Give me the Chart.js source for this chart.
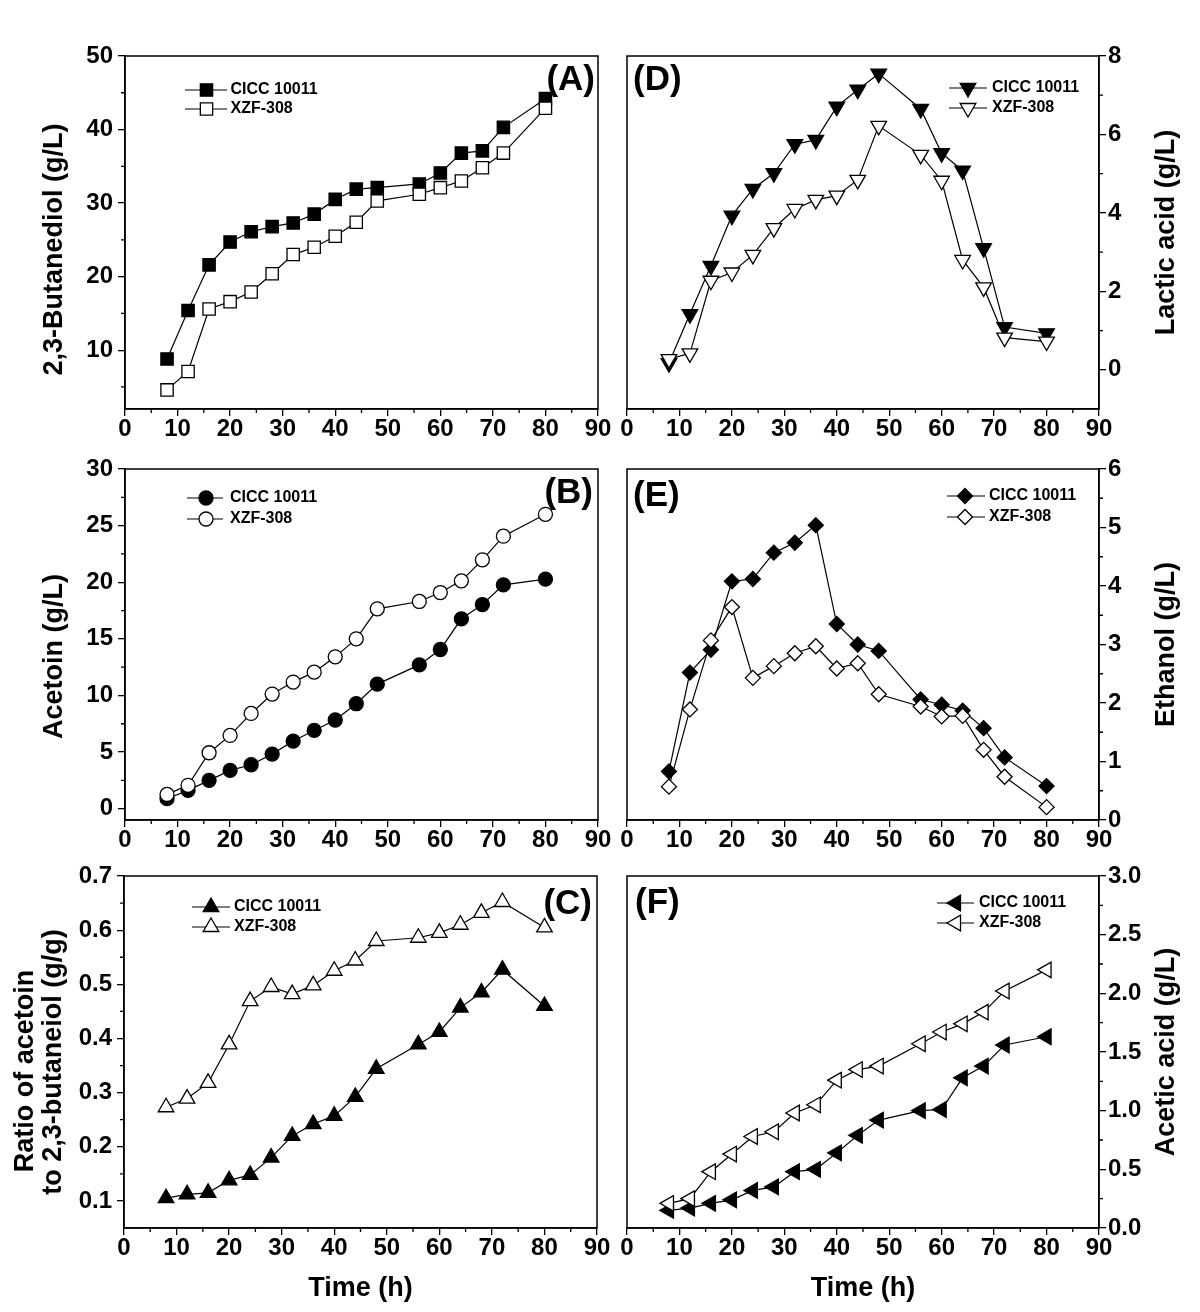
<!DOCTYPE html>
<html><head><meta charset="utf-8">
<script src="https://cdn.jsdelivr.net/npm/chart.js@4/dist/chart.umd.min.js"></script>
<style>
html,body{margin:0;padding:0;background:#fff;}
#wrap{position:relative;width:1200px;height:1312px;overflow:hidden;background:#fff;}
canvas{position:absolute;}
</style></head><body><div id="wrap"></div>
<script>
// ---------- data ----------
const timeH = [8, 12, 16, 20, 24, 28, 32, 36, 40, 44, 48, 56, 60, 64, 68, 72, 80];
const seriesNames = ['CICC 10011', 'XZF-308'];
const panelLabels = ['(A)', '(B)', '(C)', '(D)', '(E)', '(F)'];

const bdoCICC = [8.8, 15.4, 21.6, 24.7, 26.1, 26.8, 27.3, 28.5, 30.5, 31.9, 32.1, 32.6, 34.1, 36.8, 37.1, 40.3, 44.2];
const bdoXZF  = [4.6, 7.1, 15.6, 16.6, 17.9, 20.4, 23.0, 24.0, 25.5, 27.4, 30.3, 31.2, 32.1, 33.0, 34.8, 36.8, 42.9];
const acetoinCICC = [0.88, 1.62, 2.50, 3.38, 3.88, 4.82, 5.97, 6.91, 7.83, 9.27, 11.0, 12.7, 14.06, 16.77, 18.03, 19.77, 20.27];
const acetoinXZF  = [1.26, 2.06, 4.94, 6.47, 8.41, 10.12, 11.18, 12.06, 13.41, 15.0, 17.65, 18.3, 19.09, 20.12, 21.98, 24.07, 26.0];
const ratioCICC = [0.105, 0.112, 0.115, 0.138, 0.148, 0.180, 0.220, 0.242, 0.257, 0.292, 0.344, 0.389, 0.412, 0.457, 0.485, 0.527, 0.460];
const ratioXZF  = [0.273, 0.289, 0.318, 0.389, 0.469, 0.495, 0.482, 0.498, 0.525, 0.544, 0.580, 0.586, 0.595, 0.610, 0.632, 0.652, 0.605];
const lacticCICC = [0.17, 1.42, 2.65, 3.93, 4.61, 5.01, 5.75, 5.86, 6.71, 7.14, 7.55, 6.65, 5.52, 5.08, 3.10, 1.09, 0.93];
const lacticXZF  = [0.27, 0.42, 2.27, 2.48, 2.93, 3.61, 4.10, 4.33, 4.44, 4.84, 6.22, 5.48, 4.82, 2.80, 2.10, 0.82, 0.72];
const ethanolCICC = [0.83, 2.52, 2.91, 4.08, 4.12, 4.57, 4.74, 5.04, 3.35, 3.0, 2.89, 2.06, 1.97, 1.87, 1.57, 1.07, 0.58];
const ethanolXZF  = [0.57, 1.89, 3.07, 3.64, 2.43, 2.63, 2.85, 2.97, 2.59, 2.68, 2.15, 1.94, 1.77, 1.78, 1.20, 0.74, 0.22];
const aceticCICC = [0.15, 0.17, 0.21, 0.24, 0.32, 0.35, 0.48, 0.50, 0.64, 0.79, 0.92, 1.00, 1.01, 1.28, 1.38, 1.56, 1.63];
const aceticXZF  = [0.21, 0.25, 0.48, 0.63, 0.78, 0.82, 0.98, 1.05, 1.26, 1.35, 1.38, 1.57, 1.67, 1.74, 1.84, 2.02, 2.20];

// ---------- tick labels ----------
const timeTicks = [0, 10, 20, 30, 40, 50, 60, 70, 80, 90];
const timeMinorTicks = [5, 15, 25, 35, 45, 55, 65, 75, 85];
const bdoTicks = [10, 20, 30, 40, 50];
const bdoMinorTicks = [5, 15, 25, 35, 45];
const acetoinTicks = [0, 5, 10, 15, 20, 25, 30];
const acetoinMinorTicks = [2.5, 7.5, 12.5, 17.5, 22.5, 27.5];
const ratioTicks = [0.1, 0.2, 0.3, 0.4, 0.5, 0.6, 0.7];
const ratioMinorTicks = [0.15, 0.25, 0.35, 0.45, 0.55, 0.65];
const lacticTicks = [0, 2, 4, 6, 8];
const lacticMinorTicks = [1, 3, 5, 7];
const ethanolTicks = [0, 1, 2, 3, 4, 5, 6];
const ethanolMinorTicks = [0.5, 1.5, 2.5, 3.5, 4.5, 5.5];
const aceticTicks = [0, 0.5, 1, 1.5, 2, 2.5, 3];
const aceticMinorTicks = [0.25, 0.75, 1.25, 1.75, 2.25, 2.75];

const timeTitle = 'Time (h)';

// ---------- rendering ----------
const FAM = "'Liberation Sans', Arial, Helvetica, sans-serif";
const wrap = document.getElementById('wrap');

function drawMarker(ctx, style, rot, r, x, y) {
  if (Chart.helpers && Chart.helpers.drawPoint) {
    Chart.helpers.drawPoint(ctx, {pointStyle: style, rotation: rot, radius: r, borderWidth: ctx.lineWidth}, x, y);
  }
}

const deco = {
  id: 'deco',
  afterDraw(chart, args, o) {
    const ctx = chart.ctx, a = chart.chartArea, xs = chart.scales.x, ys = chart.scales.y;
    ctx.save();
    ctx.strokeStyle = '#000';
    ctx.lineWidth = 1.5;
    ctx.strokeRect(a.left, a.top, a.right - a.left, a.bottom - a.top);
    ctx.lineWidth = 1.3;
    ctx.beginPath();
    o.minorX.forEach(v => { const px = xs.getPixelForValue(v); ctx.moveTo(px, a.bottom); ctx.lineTo(px, a.bottom + 4); });
    o.minorY.forEach(v => {
      const py = ys.getPixelForValue(v);
      if (o.side === 'left') { ctx.moveTo(a.left - 4, py); ctx.lineTo(a.left, py); }
      else { ctx.moveTo(a.right, py); ctx.lineTo(a.right + 4, py); }
    });
    ctx.stroke();
    // legend
    const L = o.legend;
    chart.data.datasets.forEach((ds, i) => {
      const y = a.top + L.rows[i];
      ctx.strokeStyle = '#000';
      ctx.lineWidth = 1.2;
      ctx.beginPath(); ctx.moveTo(a.left + L.x0, y); ctx.lineTo(a.left + L.x1, y); ctx.stroke();
      ctx.fillStyle = ds.pointBackgroundColor;
      ctx.lineWidth = 1.3;
      drawMarker(ctx, ds.pointStyle, ds.pointRotation || 0, ds.pointRadius, a.left + L.mx, y);
      ctx.fillStyle = '#000';
      ctx.font = 'bold 16px ' + FAM;
      ctx.textAlign = 'left';
      ctx.textBaseline = 'middle';
      ctx.fillText(ds.label, a.left + L.tx, y);
    });
    // panel label
    ctx.fillStyle = '#000';
    ctx.font = 'bold 35px ' + FAM;
    ctx.textBaseline = 'middle';
    if (o.side === 'left') { ctx.textAlign = 'right'; ctx.fillText(o.label, a.right + o.labelDx, a.top + o.labelDy); }
    else { ctx.textAlign = 'left'; ctx.fillText(o.label, a.left + o.labelDx, a.top + o.labelDy); }
    // y title (reads bottom-to-top on both sides)
    ctx.font = 'bold 27px ' + FAM;
    ctx.textAlign = 'center';
    const cy = (a.top + a.bottom) / 2;
    const base = o.side === 'left' ? a.left : a.right;
    o.yTitle.forEach((t, k) => {
      ctx.save();
      ctx.translate(base + o.titleDx[k], cy + o.titleDy[k]);
      ctx.rotate(-Math.PI / 2);
      ctx.fillText(t, 0, 0);
      ctx.restore();
    });
    ctx.restore();
  }
};

const panels = [
  {plot: {L: 125, T: 56, R: 598, B: 409}, side: 'left', s: [bdoCICC, bdoXZF], yMin: 2, yMax: 50,
   yTicks: bdoTicks, yMinor: bdoMinorTicks, dec: 0, yTitle: ['2,3-Butanediol (g/L)'], titleDx: [-70.5], titleDy: [17],
   style: 'rect', rot: 0, r: 8.7, legend: {x0: 60, x1: 102, mx: 81.5, tx: 105.5, rows: [34, 53]},
   label: panelLabels[0], labelDx: -3, labelDy: 24, timeTitle: false},
  {plot: {L: 125, T: 469, R: 598, B: 820}, side: 'left', s: [acetoinCICC, acetoinXZF], yMin: -1, yMax: 30,
   yTicks: acetoinTicks, yMinor: acetoinMinorTicks, dec: 0, yTitle: ['Acetoin (g/L)'], titleDx: [-70.5], titleDy: [12],
   style: 'circle', rot: 0, r: 7, legend: {x0: 62, x1: 98, mx: 81, tx: 105, rows: [29, 50]},
   label: panelLabels[1], labelDx: -5, labelDy: 24, timeTitle: false},
  {plot: {L: 124, T: 876, R: 597, B: 1228}, side: 'left', s: [ratioCICC, ratioXZF], yMin: 0.05, yMax: 0.7,
   yTicks: ratioTicks, yMinor: ratioMinorTicks, dec: 1, yTitle: ['Ratio of acetoin', 'to 2,3-butaneiol (g/g)'],
   titleDx: [-98, -70], titleDy: [19, 10],
   style: 'triangle', rot: 0, r: 9, legend: {x0: 68, x1: 106, mx: 87, tx: 110, rows: [31, 51]},
   label: panelLabels[2], labelDx: -5, labelDy: 28, timeTitle: true},
  {plot: {L: 627, T: 56, R: 1099, B: 409}, side: 'right', s: [lacticCICC, lacticXZF], yMin: -1, yMax: 8,
   yTicks: lacticTicks, yMinor: lacticMinorTicks, dec: 0, yTitle: ['Lactic acid (g/L)'], titleDx: [68], titleDy: [0],
   style: 'triangle', rot: 180, r: 9, legend: {x0: 322, x1: 360, mx: 341, tx: 365, rows: [32, 52]},
   label: panelLabels[3], labelDx: 6, labelDy: 24, timeTitle: false},
  {plot: {L: 627, T: 469, R: 1099, B: 820}, side: 'right', s: [ethanolCICC, ethanolXZF], yMin: 0, yMax: 6,
   yTicks: ethanolTicks, yMinor: ethanolMinorTicks, dec: 0, yTitle: ['Ethanol (g/L)'], titleDx: [68], titleDy: [0],
   style: 'rectRot', rot: 0, r: 7.5, legend: {x0: 320, x1: 358, mx: 338, tx: 362, rows: [27, 48]},
   label: panelLabels[4], labelDx: 6, labelDy: 27, timeTitle: false},
  {plot: {L: 627, T: 876, R: 1099, B: 1228}, side: 'right', s: [aceticCICC, aceticXZF], yMin: 0, yMax: 3,
   yTicks: aceticTicks, yMinor: aceticMinorTicks, dec: 1, yTitle: ['Acetic acid (g/L)'], titleDx: [68], titleDy: [0],
   style: 'triangle', rot: 270, r: 9, legend: {x0: 310, x1: 347, mx: 329, tx: 352, rows: [27, 47]},
   label: panelLabels[5], labelDx: 8, labelDy: 27, timeTitle: true}
];

const tickFont = {family: FAM, size: 24, weight: 'bold', lineHeight: 1.1};

panels.forEach(p => {
  const {L, T, R, B} = p.plot;
  const left = p.side === 'left';
  const cx = left ? 0 : L - 20;
  const cw = left ? R + 16 : 1200 - cx;
  const cyTop = T - 20;
  const bottomPage = p.timeTitle ? 1312 : B + 42;
  const ch = bottomPage - cyTop;
  const yW = left ? L : 1200 - R;
  const xH = bottomPage - B;
  const canvas = document.createElement('canvas');
  canvas.width = cw; canvas.height = ch;
  canvas.style.cssText = `left:${cx}px;top:${cyTop}px;width:${cw}px;height:${ch}px;`;
  wrap.appendChild(canvas);

  const mk = (arr, i) => ({
    label: seriesNames[i],
    data: timeH.map((t, k) => ({x: t, y: arr[k]})),
    borderColor: '#000', borderWidth: 1.2, fill: false, tension: 0,
    pointStyle: p.style, pointRotation: p.rot, pointRadius: p.r, pointHoverRadius: p.r,
    pointBackgroundColor: i === 0 ? '#000' : '#fff', pointBorderColor: '#000', pointBorderWidth: 1.3,
    order: i === 0 ? 2 : 1, clip: false
  });

  new Chart(canvas, {
    type: 'line',
    data: {datasets: [mk(p.s[0], 0), mk(p.s[1], 1)]},
    options: {
      responsive: false, animation: false, devicePixelRatio: 1,
      events: [],
      layout: {padding: {left: left ? 0 : 20, right: left ? cw - R : 0, top: 20, bottom: 0}},
      plugins: {
        legend: {display: false}, tooltip: {enabled: false},
        deco: {side: p.side, minorX: timeMinorTicks, minorY: p.yMinor, legend: p.legend,
               label: p.label, labelDx: p.labelDx, labelDy: p.labelDy,
               yTitle: p.yTitle, titleDx: p.titleDx, titleDy: p.titleDy}
      },
      scales: {
        x: {
          type: 'linear', position: 'bottom', min: 0, max: 90,
          afterBuildTicks: s => { s.ticks = timeTicks.map(v => ({value: v})); },
          afterFit: s => { s.height = xH; s.paddingLeft = 0; s.paddingRight = 0; },
          ticks: {color: '#000', font: tickFont, padding: 0, maxRotation: 0, autoSkip: false, callback: v => String(v)},
          grid: {display: true, drawOnChartArea: false, drawTicks: true, tickLength: 7, color: '#000', lineWidth: 1.3},
          border: {display: true, color: '#000', width: 1.5},
          title: p.timeTitle ? {display: true, text: timeTitle, color: '#000', font: {family: FAM, size: 27, weight: 'bold'}, padding: {top: 0, bottom: 7}} : {display: false}
        },
        y: {
          type: 'linear', position: p.side, min: p.yMin, max: p.yMax,
          afterBuildTicks: s => { s.ticks = p.yTicks.map(v => ({value: v})); },
          afterFit: s => { s.width = yW; s.paddingTop = 0; s.paddingBottom = 0; },
          ticks: {color: '#000', font: tickFont, padding: left ? 5 : 2, autoSkip: false, callback: v => Number(v).toFixed(p.dec)},
          grid: {display: true, drawOnChartArea: false, drawTicks: true, tickLength: 7, color: '#000', lineWidth: 1.3},
          border: {display: true, color: '#000', width: 1.5},
          title: {display: false}
        }
      }
    },
    plugins: [deco]
  });
});
</script>
</body></html>
